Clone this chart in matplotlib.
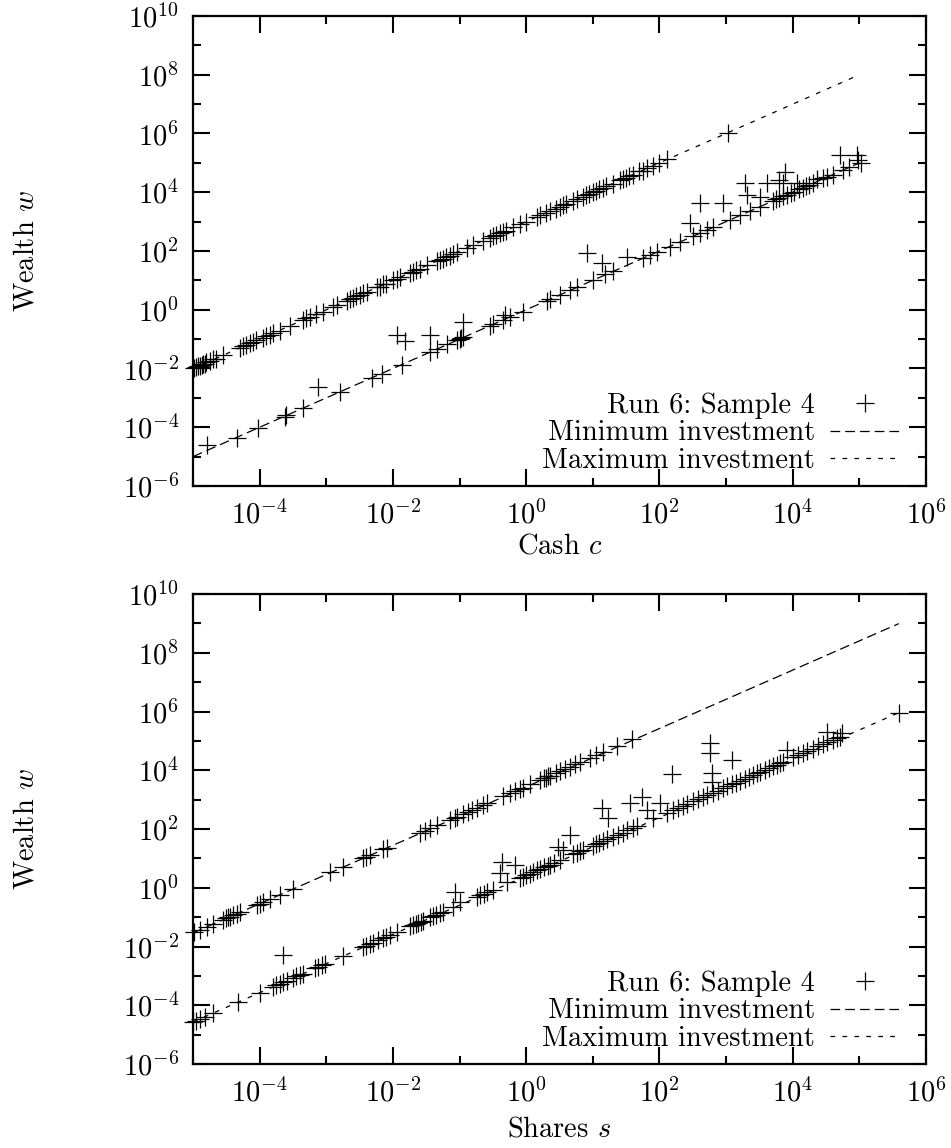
import numpy as np
import matplotlib
matplotlib.use("Agg")
import matplotlib.pyplot as plt
from matplotlib.ticker import NullFormatter

# ---- data (log10 values) ----
# top panel: cash c vs wealth w
cash_exp = [
    -4.98, -4.95, -4.92, -4.90, -4.87, -4.85, -4.82, -4.80, -4.74, -4.70, -4.65, -4.55,
    -4.29, -4.25, -4.20, -4.15, -4.10, -4.05, -3.95, -3.90, -3.85, -3.80, -3.70, -3.55,
    -3.35, -3.30, -3.25, -3.15, -3.05, -2.90, -2.84, -2.69, -2.65, -2.60, -2.55, -2.50,
    -2.45, -2.39, -2.24, -2.20, -2.15, -2.10, -2.00, -1.94, -1.89, -1.74, -1.70, -1.65,
    -1.60, -1.49, -1.34, -1.30, -1.25, -1.20, -1.15, -1.10, -1.04, -0.89, -0.80, -0.65,
    -0.54, -0.50, -0.45, -0.40, -0.35, -0.30, -0.20, -0.09, 0.00, 0.16, 0.20, 0.30,
    0.36, 0.45, 0.50, 0.55, 0.60, 0.70, 0.76, 0.85, 0.90, 0.95, 1.00, 1.05,
    1.10, 1.15, 1.20, 1.30, 1.41, 1.45, 1.50, 1.55, 1.60, 1.70, 1.75, 1.82,
    1.90, 2.00, 2.12, 3.03,
    -4.79, -4.34, -4.02, -3.62, -3.60, -3.35, -3.12, -2.79, -2.31, -2.16, -1.86, -1.94,
    -1.82, -1.44, -1.44, -1.34, -1.19, -1.04, -1.00, -0.98, -0.95, -0.95, -0.54, -0.50,
    -0.35, -0.32, -0.25, -0.05, 0.31, 0.36, 0.51, 0.66, 0.77, 1.00, 0.92, 1.14,
    1.19, 1.31, 1.52, 1.76, 1.86, 1.97, 2.16, 2.31, 2.51, 2.61, 2.72, 2.46,
    2.81, 2.61, 2.96, 3.06, 3.21, 3.36, 3.51, 3.32, 3.29, 3.51, 3.62, 3.71,
    3.79, 3.89, 3.86, 3.75, 3.80, 3.85, 3.92, 3.97, 4.02, 4.07, 4.10, 4.15,
    4.20, 4.25, 4.30, 4.37, 4.46, 4.52, 4.60, 4.71, 4.97, 4.76, 4.85, 5.02,
    4.98,
]
cash_wealth_exp = [
    -1.98, -1.96, -1.93, -1.90, -1.88, -1.84, -1.83, -1.79, -1.75, -1.69, -1.66, -1.55,
    -1.30, -1.24, -1.21, -1.14, -1.11, -1.04, -0.96, -0.89, -0.86, -0.80, -0.71, -0.55,
    -0.36, -0.29, -0.26, -0.14, -0.06, 0.10, 0.15, 0.30, 0.36, 0.39, 0.46, 0.49,
    0.56, 0.60, 0.76, 0.79, 0.86, 0.89, 1.01, 1.05, 1.12, 1.26, 1.29, 1.36,
    1.39, 1.52, 1.65, 1.71, 1.74, 1.81, 1.84, 1.91, 1.95, 2.10, 2.21, 2.34,
    2.45, 2.51, 2.54, 2.60, 2.66, 2.69, 2.80, 2.91, 3.00, 3.15, 3.21, 3.29,
    3.37, 3.44, 3.51, 3.55, 3.61, 3.69, 3.77, 3.85, 3.91, 3.94, 4.01, 4.04,
    4.11, 4.14, 4.21, 4.29, 4.41, 4.46, 4.49, 4.56, 4.59, 4.71, 4.74, 4.83,
    4.89, 5.01, 5.12, 6.02,
    -4.60, -4.35, -4.03, -3.64, -3.58, -3.34, -2.63, -2.80, -2.32, -2.18, -1.87, -0.86,
    -1.06, -0.86, -1.43, -1.32, -1.18, -1.03, -0.99, -0.97, -0.94, -0.41, -0.55, -0.50,
    -0.34, -0.17, -0.25, -0.06, 0.31, 0.37, 0.50, 0.66, 0.78, 1.01, 1.94, 1.60,
    1.20, 1.31, 1.80, 1.76, 1.87, 1.97, 2.15, 2.31, 2.50, 2.61, 2.72, 2.96,
    2.81, 3.64, 3.64, 3.06, 3.22, 3.35, 3.51, 3.91, 4.32, 3.85, 4.32, 3.71,
    4.43, 4.70, 4.32, 3.76, 3.80, 3.86, 3.92, 3.98, 4.02, 4.32, 4.11, 4.15,
    4.21, 4.25, 4.30, 4.45, 4.50, 4.52, 4.60, 5.28, 5.28, 4.77, 4.85, 5.00,
    5.10,
]

# bottom panel: shares s vs wealth w
shares_exp = [
    -4.98, -4.89, -4.79, -4.70, -4.55, -4.50, -4.47, -4.44, -4.40, -4.34, -4.29, -4.04,
    -4.00, -3.95, -3.84, -3.69, -3.50, -2.94, -2.75, -2.45, -2.40, -2.34, -2.15, -2.09,
    -1.59, -1.52, -1.44, -1.34, -1.14, -1.07, -1.04, -0.95, -0.87, -0.81, -0.74, -0.65,
    -0.59, -0.35, -0.24, -0.17, -0.09, -0.05, 0.06, 0.21, 0.26, 0.29, 0.33, 0.36,
    0.44, 0.51, 0.59, 0.66, 0.74, 0.81, 0.96, 1.05, 1.16, 1.37, 1.59,
    -5.00, -4.95, -4.90, -4.82, -4.70, -4.32, -3.99, -3.80, -3.75, -3.70, -3.65, -3.59,
    -3.50, -3.45, -3.40, -3.35, -3.17, -3.12, -3.07, -3.02, -3.65, -2.75, -2.45, -2.40,
    -2.34, -2.30, -2.22, -2.15, -2.10, -2.04, -1.94, -1.74, -1.70, -1.66, -1.62, -1.58,
    -1.55, -1.44, -1.40, -1.35, -1.30, -1.25, -1.10, -1.07, -1.00, -0.74, -0.69, -0.64,
    -0.59, -0.50, -0.39, -0.36, -0.29, -0.17, -0.09, -0.05, 0.00, 0.05, 0.10, 0.16,
    0.21, 0.26, 0.32, 0.36, 0.41, 0.47, 0.51, 0.56, 0.66, 0.71, 0.76, 0.81,
    0.86, 1.00, 1.05, 1.10, 1.16, 1.22, 1.14, 1.23, 1.31, 1.38, 1.45, 1.52,
    1.60, 1.67, 1.56, 1.74, 1.82, 2.01, 1.91, 2.12, 2.20, 2.28, 2.35, 2.42,
    2.51, 2.58, 2.65, 2.72, 2.19, 2.76, 2.76, 3.09, 2.79, 2.79, 2.81, 2.88,
    2.95, 3.02, 3.09, 3.15, 3.21, 3.28, 3.34, 3.40, 3.47, 3.51, 3.58, 3.65,
    3.71, 3.76, 3.81, 3.86, 3.92, 4.01, 4.08, 4.15, 4.22, 4.31, 4.38, 4.45,
    4.52, 4.52, 4.61, 4.66, 4.71, 4.74, 5.59,
]
shares_wealth_exp = [
    -1.52, -1.43, -1.33, -1.24, -1.09, -1.04, -1.01, -0.98, -0.94, -0.88, -0.83, -0.58,
    -0.54, -0.49, -0.38, -0.23, -0.04, 0.52, 0.71, 1.01, 1.06, 1.12, 1.31, 1.37,
    1.87, 1.94, 2.02, 2.12, 2.32, 2.39, 2.42, 2.51, 2.59, 2.65, 2.72, 2.81,
    2.87, 3.11, 3.22, 3.29, 3.37, 3.41, 3.52, 3.67, 3.72, 3.75, 3.79, 3.82,
    3.90, 3.97, 4.05, 4.12, 4.20, 4.27, 4.42, 4.51, 4.62, 4.83, 5.05,
    -4.57, -4.52, -4.47, -4.40, -4.26, -3.90, -3.57, -3.37, -3.32, -3.28, -3.22, -3.16,
    -3.07, -3.02, -2.97, -2.92, -2.74, -2.69, -2.64, -2.60, -2.29, -2.32, -2.02, -1.97,
    -1.91, -1.87, -1.79, -1.72, -1.67, -1.61, -1.51, -1.31, -1.27, -1.23, -1.19, -1.15,
    -1.12, -1.01, -0.97, -0.92, -0.87, -0.82, -0.67, -0.14, -0.50, -0.31, -0.26, -0.21,
    -0.16, -0.07, 0.51, 0.88, 0.20, 0.78, 0.34, 0.38, 0.43, 0.48, 0.53, 0.59,
    0.64, 0.69, 0.75, 0.79, 0.84, 1.39, 0.94, 1.29, 1.80, 1.14, 1.19, 1.24,
    1.29, 1.43, 1.48, 1.53, 1.59, 1.65, 2.72, 2.38, 1.74, 1.81, 1.88, 1.95,
    2.03, 2.10, 2.89, 3.10, 2.65, 2.89, 2.38, 2.55, 2.63, 2.71, 2.78, 2.85,
    2.94, 3.01, 3.08, 3.15, 3.88, 4.94, 4.60, 4.36, 3.91, 3.60, 3.24, 3.31,
    3.38, 3.45, 3.52, 3.58, 3.64, 3.71, 3.77, 3.83, 3.90, 3.94, 4.01, 4.08,
    4.14, 4.19, 4.24, 4.29, 4.70, 4.44, 4.51, 4.58, 4.65, 4.74, 4.81, 4.88,
    4.95, 5.31, 5.04, 5.09, 5.14, 5.28, 5.96,
]

# bound lines (end points)
cash_line = [1e-5, 1e5]
cash_min_w = [1e-5, 1e5]
cash_max_w = [1e-2, 1e8]
shares_line = [1e-5, 3.9e5]
shares_min_w = [2.9e-2, 9.8e8]
shares_max_w = [2.7e-5, 9.1e5]

sample_label = "Run 6: Sample 4"
min_label = "Minimum investment"
max_label = "Maximum investment"

plt.rcParams["font.family"] = "serif"
plt.rcParams["font.serif"] = ["cmr10"]
plt.rcParams["mathtext.fontset"] = "cm"
plt.rcParams["axes.formatter.use_mathtext"] = True
plt.rcParams["lines.scale_dashes"] = False

FS = 20.5
fig = plt.figure(figsize=(9.51, 11.48), dpi=100)
ax_top = fig.add_axes([193 / 951, 1 - 486 / 1148, 733 / 951, 470 / 1148])
ax_bot = fig.add_axes([193 / 951, 1 - 1064 / 1148, 733 / 951, 470 / 1148])


def draw_panel(ax, x_exp, w_exp, xline, minw, maxw, xlabel, xlab_y):
    x = 10.0 ** np.array(x_exp)
    w = 10.0 ** np.array(w_exp)
    ax.plot(x, w, linestyle="none", marker="+", markersize=12.5, mew=0.9,
            color="black", label=sample_label, clip_on=False, zorder=3)
    ax.plot(xline, minw, color="black", lw=0.9, dashes=(7.0, 3.6), label=min_label)
    ax.plot(xline, maxw, color="black", lw=0.9, dashes=(3.4, 5.2), label=max_label)

    ax.set_xscale("log")
    ax.set_yscale("log")
    ax.set_xlim(1e-5, 1e6)
    ax.set_ylim(1e-6, 1e10)
    ax.set_xticks([10.0 ** k for k in range(-4, 7, 2)])
    ax.set_xticks([10.0 ** k for k in range(-5, 6, 2)], minor=True)
    ax.set_yticks([10.0 ** k for k in range(-6, 11, 2)])
    ax.set_yticks([10.0 ** k for k in range(-5, 10, 2)], minor=True)
    ax.xaxis.set_minor_formatter(NullFormatter())
    ax.yaxis.set_minor_formatter(NullFormatter())
    ax.tick_params(which="both", direction="in", top=True, right=True,
                   labelsize=FS, width=1.5)
    ax.tick_params(which="major", length=12.2)
    ax.tick_params(which="minor", length=5.8)
    ax.tick_params(axis="x", pad=10)
    ax.tick_params(axis="y", pad=10)
    for sp in ax.spines.values():
        sp.set_linewidth(1.6)

    ax.set_xlabel(xlabel, fontsize=FS)
    ax.set_ylabel("Wealth $w$", fontsize=FS)
    ax.xaxis.set_label_coords(0.5, xlab_y)
    ax.yaxis.set_label_coords(-0.21, 0.5)

    ax.legend(loc="lower right", bbox_to_anchor=(0.9645, 0.025), frameon=False,
              markerfirst=False, fontsize=FS, handlelength=2.46, handletextpad=0.53,
              labelspacing=0.05, borderpad=0, borderaxespad=0)


draw_panel(ax_top, cash_exp, cash_wealth_exp, cash_line, cash_min_w, cash_max_w,
           "Cash $c$", -0.1)
draw_panel(ax_bot, shares_exp, shares_wealth_exp, shares_line, shares_min_w, shares_max_w,
           "Shares $s$", -0.112)

fig.savefig("out.png", dpi=100)
